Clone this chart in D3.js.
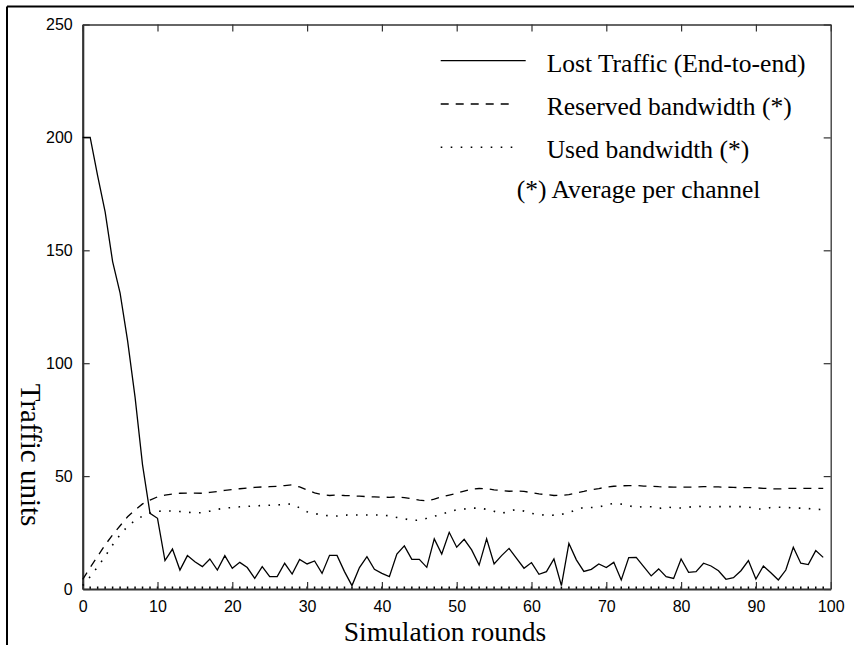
<!DOCTYPE html>
<html>
<head>
<meta charset="utf-8">
<script src="https://cdn.jsdelivr.net/npm/d3@7"></script>
<style>
  body { margin: 0; background: #fff; }
  svg { display: block; }
</style>
</head>
<body>
<script>
// simulation rounds 0..99
var rounds = d3.range(0, 100);

// values
var lostTraffic = [200, 200, 183, 167, 145, 131, 110, 85, 55, 33.5,
	31.3, 12.6, 17.7, 8.4, 14.8, 12.1, 9.9, 13.3, 8.4, 14.8,
	9.2, 11.8, 9.5, 4.7, 9.9, 5.5, 5.5, 11.4, 6.6, 13.1,
	11.1, 12.4, 6.9, 14.9, 14.9, 7.7, 1.5, 9.5, 14.3, 8.7,
	6.9, 5.5, 15.5, 19.1, 13.1, 13.1, 9.6, 22.2, 15.5, 25.1,
	18.5, 22.0, 17.3, 10.6, 22.2, 11.1, 14.8, 18.0, 13.6, 9.2,
	11.7, 6.5, 7.7, 13.3, 1.5, 20.2, 12.9, 7.8, 8.7, 11.1,
	9.5, 11.8, 4.0, 13.9, 14.0, 9.9, 5.8, 8.9, 5.5, 4.7,
	13.3, 7.4, 7.7, 11.4, 10.2, 8.1, 4.3, 5.0, 8.1, 12.6,
	4.4, 10.2, 7.2, 4.0, 8.4, 18.5, 11.4, 10.8, 17.0, 14.0];

var reservedBw = [4.3, 9.5, 14.5, 19.5, 24, 28, 32, 35, 37.7, 39.4,
	40.8, 41.6, 42.1, 42.4, 42.5, 42.5, 42.4, 42.8, 43.2, 43.7,
	44, 44.4, 44.7, 45, 45.2, 45.3, 45.5, 45.8, 46.1, 45.2,
	43.8, 42.6, 41.8, 41.4, 41.6, 41.4, 41.3, 41.1, 40.9, 40.8,
	40.7, 40.6, 40.8, 40.5, 40.0, 39.4, 39.0, 39.8, 40.8, 41.6,
	42.4, 43.4, 44.2, 44.5, 44.4, 43.9, 43.6, 43.3, 43.4, 43.2,
	42.7, 42.1, 41.8, 41.4, 41.5, 41.8, 42.5, 43.2, 44.0, 44.5,
	45.1, 45.5, 45.7, 45.8, 45.8, 45.6, 45.5, 45.3, 45.2, 45.1,
	45.1, 45.1, 45.2, 45.3, 45.3, 45.2, 45.1, 45.0, 44.9, 44.9,
	44.8, 44.6, 44.4, 44.3, 44.5, 44.6, 44.6, 44.6, 44.6, 44.6];

var usedBw = [1.5, 5.5, 9.8, 14.5, 19.5, 24, 27.8, 30.3, 32.3, 33.7,
	34.4, 34.6, 34.5, 34.3, 34, 33.7, 33.8, 34.5, 35.3, 35.8,
	36.1, 36.4, 36.6, 36.8, 37, 37.1, 37.2, 37.5, 37.7, 35.9,
	34.2, 33.4, 32.8, 32.4, 32.3, 32.7, 32.8, 32.8, 32.8, 32.8,
	32.8, 32.4, 31.7, 31.1, 30.4, 30.5, 31.3, 32.2, 33.1, 34.2,
	35.1, 35.4, 35.8, 35.8, 35.3, 34.4, 33.5, 34.4, 35.3, 34.5,
	33.5, 33, 32.6, 32.7, 33, 33.9, 35.1, 36.2, 36.1, 36.2,
	37.3, 37.9, 37.6, 36.9, 36.1, 36.6, 36.4, 35.6, 36.4, 35.9,
	35.9, 36.2, 36.7, 36.4, 36.3, 36.5, 36.5, 36.5, 36.5, 36.3,
	35.5, 35.4, 36.1, 36.2, 36.1, 35.9, 35.8, 35.6, 35.3, 35.2];

var xTicks = [0, 10, 20, 30, 40, 50, 60, 70, 80, 90, 100];
var yTicks = [0, 50, 100, 150, 200, 250];

var legendLabels = ["Lost Traffic (End-to-end)", "Reserved bandwidth (*)", "Used bandwidth (*)"];
var legendNote = "(*) Average per channel";

var width = 854,
	height = 645;

var svg = d3.select('body').append('svg')
	.attr('width', width)
	.attr('height', height);

// outer frame (cropped scan: top and left edges)
svg.append('line')
	.attr('x1', 7).attr('x2', width).attr('y1', 6.5).attr('y2', 6.5)
	.attr('stroke', '#000').attr('stroke-width', 2);
svg.append('line')
	.attr('x1', 7).attr('x2', 7).attr('y1', 6.5).attr('y2', height)
	.attr('stroke', '#000').attr('stroke-width', 2);

var x = d3.scaleLinear().domain([0, 100]).range([82.7, 830.7]);
var y = d3.scaleLinear().domain([0, 250]).range([589, 24.5]);

var axisColor = '#333';
var tickFont = '"Liberation Sans", Arial, sans-serif';

// minor ticks on the bottom axis
svg.append('g')
	.selectAll('line')
	.data(d3.range(1, 100))
	.enter().append('line')
	.attr('x1', function(d) { return x(d); })
	.attr('x2', function(d) { return x(d); })
	.attr('y1', y(0))
	.attr('y2', y(0) - 2.5)
	.attr('stroke', '#000')
	.attr('stroke-width', 1.5);

var gx = svg.append('g')
	.attr('transform', 'translate(0,' + y(0) + ')')
	.call(d3.axisBottom(x).tickValues(xTicks).tickSizeInner(-7).tickSizeOuter(0).tickPadding(11.5));

var gxTop = svg.append('g')
	.attr('transform', 'translate(0,' + y(250) + ')')
	.call(d3.axisTop(x).tickValues(xTicks).tickSizeInner(-7).tickSizeOuter(0).tickFormat(''));

var gy = svg.append('g')
	.attr('transform', 'translate(' + x(0) + ',0)')
	.call(d3.axisLeft(y).tickValues(yTicks).tickSizeInner(-7).tickSizeOuter(0).tickPadding(10));

var gyRight = svg.append('g')
	.attr('transform', 'translate(' + x(100) + ',0)')
	.call(d3.axisRight(y).tickValues(yTicks).tickSizeInner(-7).tickSizeOuter(0).tickFormat(''));

[gx, gxTop, gy, gyRight].forEach(function(g) {
	g.selectAll('.tick line').attr('stroke', axisColor).attr('stroke-width', 1.2);
	g.selectAll('.tick text')
		.attr('fill', '#000')
		.style('font-family', tickFont)
		.style('font-size', '16px');
});
gx.select('.domain').attr('stroke', axisColor).attr('stroke-width', 2.2);
gy.select('.domain').attr('stroke', axisColor).attr('stroke-width', 2.2);
gxTop.select('.domain').attr('stroke', axisColor).attr('stroke-width', 1.3);
gyRight.select('.domain').attr('stroke', axisColor).attr('stroke-width', 1.3);

// series
var line = d3.line()
	.x(function(d, i) { return x(rounds[i]); })
	.y(function(d) { return y(d); });

var series = [
	{ values: lostTraffic, dash: null, w: 1.3 },
	{ values: reservedBw, dash: '8,7', w: 1.3 },
	{ values: usedBw, dash: '1.6,8.4', w: 1.6 }
];

svg.append('g')
	.selectAll('path')
	.data(series)
	.enter().append('path')
	.attr('d', function(d) { return line(d.values); })
	.attr('fill', 'none')
	.attr('stroke', '#000')
	.attr('stroke-width', function(d) { return d.w; })
	.attr('stroke-dasharray', function(d) { return d.dash; })
	.attr('stroke-linejoin', 'miter');

// legend
var serif = '"Liberation Serif", "Times New Roman", serif';
var legendLen = [85, 74, 80];
var legend = svg.append('g');
legendLabels.forEach(function(label, i) {
	var ly = 60.7 + i * 43.3;
	legend.append('line')
		.attr('x1', 440.7).attr('x2', 440.7 + legendLen[i])
		.attr('y1', ly).attr('y2', ly)
		.attr('stroke', '#000')
		.attr('stroke-width', series[i].w)
		.attr('stroke-dasharray', series[i].dash);
	legend.append('text')
		.attr('x', 546.7)
		.attr('y', ly + 11)
		.style('font-family', serif)
		.style('font-size', '25.5px')
		.text(label);
});
legend.append('text')
	.attr('x', 516.7)
	.attr('y', 197.5)
	.style('font-family', serif)
	.style('font-size', '25.5px')
	.text(legendNote);

// axis titles
svg.append('text')
	.attr('x', 445)
	.attr('y', 640.5)
	.attr('text-anchor', 'middle')
	.style('font-family', serif)
	.style('font-size', '27.5px')
	.text('Simulation rounds');

svg.append('text')
	.attr('transform', 'translate(21,455) rotate(90)')
	.attr('text-anchor', 'middle')
	.style('font-family', serif)
	.style('font-size', '29px')
	.text('Traffic units');
</script>
</body>
</html>
